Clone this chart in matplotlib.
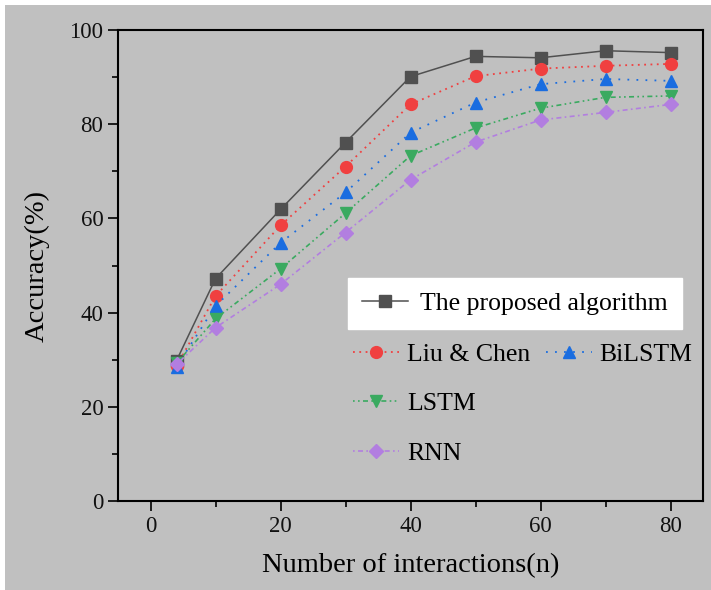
import matplotlib
matplotlib.use('Agg')
import matplotlib.pyplot as plt
from matplotlib.lines import Line2D
from matplotlib.patches import Rectangle
from matplotlib.ticker import MultipleLocator

plt.rcParams['font.family'] = ['Liberation Serif', 'DejaVu Serif']

# data
interactions = [4, 10, 20, 30, 40, 50, 60, 70, 80]
proposed = [29.8, 47.2, 61.9, 76.1, 90.1, 94.4, 94.1, 95.6, 95.2]
liu_chen = [28.6, 43.5, 58.5, 71.0, 84.2, 90.2, 91.8, 92.4, 92.8]
bilstm = [28.5, 41.4, 54.8, 65.5, 78.2, 84.6, 88.5, 89.6, 89.2]
lstm = [29.2, 38.7, 49.3, 61.1, 73.3, 79.2, 83.4, 85.7, 86.0]
rnn = [29.0, 36.8, 46.0, 57.0, 68.2, 76.2, 80.9, 82.5, 84.2]

bg = '#c0c0c0'
fig = plt.figure(figsize=(7.11, 5.90), dpi=100, facecolor=bg)
# thin white margin on the top and left edges
fig.patches.append(Rectangle((0, 1 - 5/590), 1, 5/590, transform=fig.transFigure,
                             facecolor='white', edgecolor='none'))
fig.patches.append(Rectangle((0, 0), 5/711, 1, transform=fig.transFigure,
                             facecolor='white', edgecolor='none'))
ax = fig.add_axes([118/711, 89/590, (703-118)/711, (501-30)/590])
ax.set_facecolor(bg)

l1, = ax.plot(interactions, proposed, color='#505050', ls='-', lw=1.1,
              marker='s', ms=8, mec='#505050', label='The proposed algorithm')
l2, = ax.plot(interactions, liu_chen, color='#f04040', ls=(0, (1, 2.5)), lw=1.3,
              marker='o', ms=8.5, label='Liu & Chen')
l3, = ax.plot(interactions, bilstm, color='#1a6de0', ls=(0, (1, 4)), lw=1.3,
              marker='^', ms=9, label='BiLSTM')
l4, = ax.plot(interactions, lstm, color='#3aaa60', ls=(0, (1, 2, 1, 2, 3, 2)), lw=1.2,
              marker='v', ms=9, label='LSTM')
l5, = ax.plot(interactions, rnn, color='#b27ee0', ls=(0, (1, 2, 3, 2)), lw=1.2,
              marker='D', ms=7.5, label='RNN')

ax.set_xlim(-5, 85)
ax.set_ylim(0, 100)
ax.xaxis.set_major_locator(MultipleLocator(20))
ax.xaxis.set_minor_locator(MultipleLocator(10))
ax.yaxis.set_major_locator(MultipleLocator(20))
ax.yaxis.set_minor_locator(MultipleLocator(10))
ax.tick_params(which='major', direction='out', length=7, width=1.2, labelsize=16.5,
               colors='black', labelcolor='#111111')
ax.tick_params(which='minor', direction='out', length=4, width=1.2)
for s in ax.spines.values():
    s.set_linewidth(1.5)
    s.set_color('black')

ax.set_xlabel('Number of interactions(n)', fontsize=20.5, labelpad=12)
ax.set_ylabel('Accuracy(%)', fontsize=20.5, labelpad=14)

# legend: first entry boxed in white, the rest unboxed
leg1 = ax.legend(handles=[l1], loc='upper left', bbox_to_anchor=(348/711, 1 - 278/590),
                 bbox_transform=fig.transFigure, borderaxespad=0, fontsize=18.5,
                 frameon=True, fancybox=False, framealpha=1, edgecolor='white',
                 handlelength=1.8, handletextpad=0.45, borderpad=0.55)
leg1.get_frame().set_facecolor('white')
ax.add_artist(leg1)

blank = Line2D([], [], color='none')
ax.legend(handles=[l2, l4, l5, l3, blank, blank],
          labels=['Liu & Chen', 'LSTM', 'RNN', 'BiLSTM', '', ''],
          ncol=2, loc='upper left', bbox_to_anchor=(348/711, 1 - 338/590),
          bbox_transform=fig.transFigure, borderaxespad=0, fontsize=18.5,
          frameon=False, handlelength=1.8, handletextpad=0.3,
          labelspacing=1.02, columnspacing=0.6, borderpad=0.2)

fig.savefig('out.png', dpi=100, facecolor=fig.get_facecolor())
